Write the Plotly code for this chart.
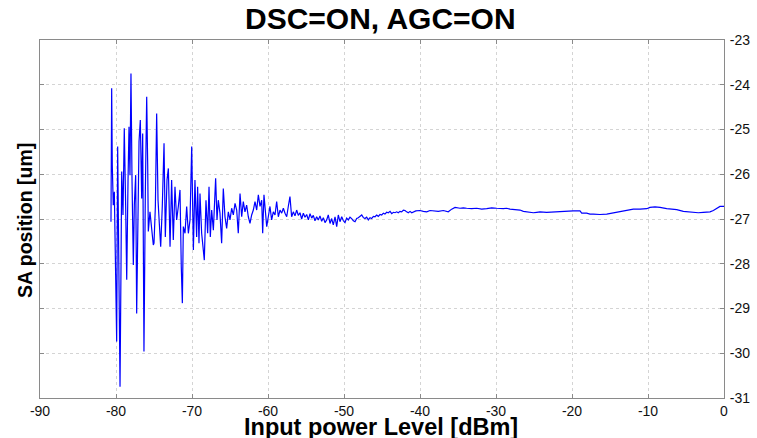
import plotly.graph_objects as go

# Input power level [dBm]
x_dbm = [
    -80.66, -80.57, -80.49, -80.36, -80.22, -80.04, -79.91, -79.78, -79.65, -79.47,
    -79.34, -79.25, -79.08, -78.91, -78.73, -78.59, -78.42, -78.29, -78.16, -78.03,
    -77.89, -77.72, -77.59, -77.41, -77.28, -77.11, -76.97, -76.80, -76.62, -76.49,
    -76.32, -76.14, -75.96, -75.83, -75.75, -75.53, -75.31, -75.09, -75.00, -74.82,
    -74.65, -74.47, -74.30, -74.12, -73.91, -73.68, -73.51, -73.29, -73.11, -72.89,
    -72.68, -72.46, -72.24, -72.02, -71.80, -71.58, -71.41, -71.27, -71.14, -70.92,
    -70.70, -70.48, -70.26, -70.04, -69.82, -69.61, -69.39, -69.26, -69.08, -68.95,
    -68.73, -68.55, -68.38, -68.16, -67.94, -67.76, -67.59, -67.41, -67.19, -66.89,
    -66.71, -66.54, -66.32, -66.10, -65.88, -65.66, -65.44, -65.22, -65.00, -64.78,
    -64.56, -64.34, -64.12, -63.91, -63.68, -63.46, -63.25, -63.03, -62.81, -62.59,
    -62.37, -62.15, -61.93, -61.71, -61.49, -61.27, -61.05, -60.83, -60.70, -60.53,
    -60.35, -60.17, -59.96, -59.74, -59.52, -59.30, -59.08, -58.86, -58.64, -58.42,
    -58.20, -57.98, -57.76, -57.54, -57.33, -57.11, -56.89, -56.67, -56.45, -56.23,
    -56.01, -55.79, -55.57, -55.35, -55.13, -54.91, -54.69, -54.47, -54.25, -54.04,
    -53.82, -53.60, -53.38, -53.16, -52.94, -52.72, -52.50, -52.28, -52.07, -51.84,
    -51.62, -51.41, -51.18, -50.96, -50.75, -50.53, -50.30, -50.08, -49.87, -49.65,
    -49.43, -49.21, -48.99, -48.77, -48.55, -48.33, -48.12, -47.89, -47.67, -47.45,
    -47.24, -47.02, -46.80, -46.58, -46.36, -46.14, -45.92, -45.70, -45.49, -45.26,
    -45.04, -44.82, -44.61, -44.39, -44.17, -43.94, -43.72, -43.50, -43.29, -43.07,
    -42.86, -42.63, -42.41, -42.19, -41.97, -41.76, -41.54, -41.31, -41.09, -40.55,
    -40.00, -39.56, -39.12, -38.68, -38.25, -37.59, -36.93, -36.28, -35.83, -35.39,
    -34.74, -34.30, -33.86, -33.20, -32.54, -31.88, -31.22, -30.56, -29.91, -29.48,
    -29.04, -28.60, -28.16, -27.50, -26.84, -26.40, -25.96, -25.53, -25.09, -24.65,
    -24.21, -23.34, -22.46, -21.58, -20.70, -19.83, -18.95, -18.72, -18.07, -17.64,
    -17.20, -16.32, -15.43, -14.57, -13.68, -12.80, -11.93, -11.05, -10.17, -9.74,
    -9.08, -8.42, -7.98, -7.54, -6.88, -6.22, -5.35, -4.70, -4.04, -3.38,
    -2.72, -2.28, -1.84, -1.40, -0.96, -0.53, 0.00,
]

# SA position [um]
sa_um = [
    -27.06, -24.08, -25.79, -26.69, -26.39, -28.32, -29.74, -25.38, -27.28, -30.75,
    -28.03, -25.94, -26.91, -24.97, -26.69, -28.36, -26.17, -24.94, -26.02, -23.75,
    -26.17, -28.03, -26.69, -26.02, -29.11, -26.91, -25.27, -24.79, -26.54, -25.09,
    -29.96, -26.39, -24.27, -25.79, -27.28, -26.84, -27.28, -27.58, -27.54, -26.72,
    -24.64, -26.58, -27.10, -27.62, -26.72, -25.31, -27.40, -26.13, -25.87, -27.62,
    -26.13, -27.47, -26.28, -27.02, -26.72, -26.35, -28.07, -28.88, -27.17, -27.32,
    -26.72, -27.32, -27.02, -25.38, -27.69, -26.13, -27.40, -26.28, -27.54, -26.43,
    -27.32, -27.62, -27.92, -26.58, -27.32, -26.28, -27.40, -26.80, -27.25, -26.09,
    -27.02, -26.58, -26.87, -27.54, -26.32, -26.95, -27.21, -26.84, -27.02, -26.76,
    -26.91, -26.65, -26.80, -27.32, -26.43, -26.95, -26.61, -26.84, -26.69, -26.95,
    -27.10, -26.91, -26.80, -26.61, -26.80, -26.46, -26.72, -26.58, -27.32, -26.46,
    -26.87, -27.17, -26.95, -26.72, -27.02, -26.84, -26.91, -26.61, -26.95, -26.80,
    -26.87, -26.76, -26.87, -26.95, -26.72, -26.50, -26.95, -26.84, -26.93, -26.80,
    -26.92, -26.86, -27.00, -26.87, -26.96, -26.90, -27.02, -26.88, -26.98, -26.92,
    -27.04, -26.95, -27.02, -26.93, -27.05, -26.97, -27.08, -27.02, -26.91, -27.10,
    -26.99, -27.13, -26.95, -27.17, -26.91, -27.06, -26.95, -27.04, -27.08, -26.98,
    -27.02, -26.96, -26.99, -27.04, -27.06, -26.99, -26.97, -26.93, -26.91, -26.97,
    -26.99, -26.96, -27.02, -26.97, -26.99, -26.94, -26.95, -26.91, -26.94, -26.90,
    -26.91, -26.87, -26.89, -26.85, -26.86, -26.83, -26.88, -26.85, -26.86, -26.84,
    -26.86, -26.83, -26.84, -26.80, -26.81, -26.84, -26.86, -26.83, -26.86, -26.82,
    -26.81, -26.83, -26.84, -26.81, -26.82, -26.83, -26.81, -26.84, -26.78, -26.74,
    -26.76, -26.75, -26.76, -26.77, -26.76, -26.78, -26.77, -26.75, -26.76, -26.77,
    -26.77, -26.76, -26.78, -26.79, -26.80, -26.83, -26.84, -26.85, -26.86, -26.85,
    -26.84, -26.85, -26.84, -26.83, -26.83, -26.82, -26.82, -26.87, -26.87, -26.89,
    -26.89, -26.90, -26.89, -26.86, -26.84, -26.80, -26.78, -26.78, -26.77, -26.74,
    -26.73, -26.74, -26.76, -26.77, -26.78, -26.79, -26.83, -26.84, -26.85, -26.86,
    -26.85, -26.85, -26.84, -26.81, -26.77, -26.72, -26.72,
]

x_tickvals = [-90, -80, -70, -60, -50, -40, -30, -20, -10, 0]
x_ticktext = ["-90", "-80", "-70", "-60", "-50", "-40", "-30", "-20", "-10", "0"]
y_tickvals = [-31, -30, -29, -28, -27, -26, -25, -24, -23]
y_ticktext = ["-31", "-30", "-29", "-28", "-27", "-26", "-25", "-24", "-23"]

FONT = "Liberation Sans, Arial, Helvetica, sans-serif"

fig = go.Figure()
fig.add_trace(go.Scatter(
    x=x_dbm, y=sa_um, mode="lines",
    line=dict(color="#0000ff", width=1.2),
    showlegend=False,
))

axis_common = dict(
    showline=True, linecolor="#8a8a8a", linewidth=1, mirror="ticks",
    showgrid=True, gridcolor="#d4d4d4", griddash="dot", gridwidth=1,
    ticks="inside", ticklen=4, tickcolor="#8a8a8a",
    zeroline=False, automargin=False,
    tickfont=dict(family=FONT, size=14, color="#111111"),
)

fig.update_layout(
    width=757, height=438,
    margin=dict(l=40, r=33, t=40, b=40),
    paper_bgcolor="white", plot_bgcolor="white",
    xaxis=dict(
        range=[-90, 0], tickvals=x_tickvals, ticktext=x_ticktext,
        **axis_common,
    ),
    yaxis=dict(
        range=[-31, -23], tickvals=y_tickvals, ticktext=y_ticktext,
        side="right", ticklabelstandoff=2,
        **axis_common,
    ),
    annotations=[
        dict(text="<b>DSC=ON, AGC=ON</b>",
             xref="paper", yref="paper", x=0.4985, y=1.061,
             xanchor="center", yanchor="middle", showarrow=False,
             font=dict(family=FONT, size=30, color="black")),
        dict(text="<b>Input power Level [dBm]</b>",
             xref="paper", yref="paper", x=0.4985, y=-0.081,
             xanchor="center", yanchor="middle", showarrow=False,
             font=dict(family=FONT, size=23.5, color="black")),
        dict(text="<b>SA position [um]</b>", textangle=-90,
             xref="paper", yref="paper", x=-0.022, y=0.497,
             xanchor="center", yanchor="middle", showarrow=False,
             font=dict(family=FONT, size=19.5, color="black")),
    ],
)

fig.write_html(
    "out.html",
    config={"displayModeBar": False, "staticPlot": True},
    post_script="document.body.style.margin='0';document.body.style.overflow='hidden';",
)
